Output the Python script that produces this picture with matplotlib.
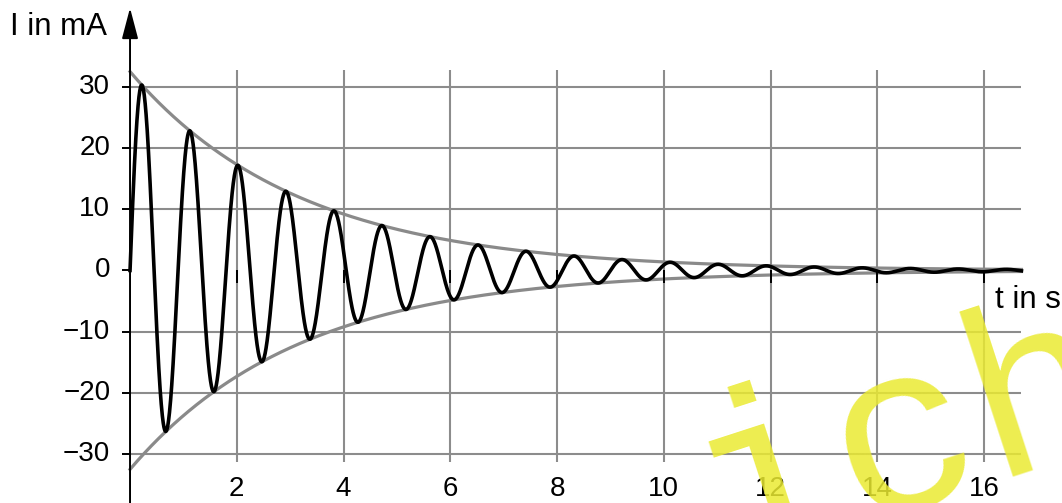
import numpy as np
import matplotlib.pyplot as plt

plt.rcParams['font.family'] = ['Liberation Sans', 'DejaVu Sans']

# Werte
I0 = 32.5        # Anfangsamplitude der Einhuellenden (mA)
delta = 0.315    # Abklingkonstante (1/s)
T = 0.9          # Periodendauer (s)
t_end = 16.7     # Ende der Kurve (s)

x_ticks = [2, 4, 6, 8, 10, 12, 14, 16]
y_ticks = [-30, -20, -10, 0, 10, 20, 30]
x_tick_labels = ['2', '4', '6', '8', '10', '12', '14', '16']
y_tick_labels = ['\u221230', '\u221220', '\u221210', '0', '10', '20', '30']

t = np.linspace(0, t_end, 4000)
env = I0 * np.exp(-delta * t)
I = env * np.sin(2 * np.pi * t / T)

fig = plt.figure(figsize=(10.62, 5.03), dpi=100)
ax = fig.add_axes([0, 0, 1, 1])
ax.set_xlim(-2.436, 17.46)
ax.set_ylim(-38.0, 44.2)
ax.axis('off')

grid_col = '#8c8c8c'
# Gitter
ax.vlines(x_ticks, -31.3, 32.8, color=grid_col, lw=1.5, zorder=1)
ax.hlines([y for y in y_ticks if y != 0], 0, t_end, color=grid_col, lw=1.5, zorder=1)

# Achsen mit Pfeilen
ax.annotate('', xy=(17.55, 0), xytext=(-0.15, 0),
            arrowprops=dict(arrowstyle='-|>,head_length=1.9,head_width=0.5',
                            mutation_scale=10, color='black', lw=1.4,
                            shrinkA=0, shrinkB=0), zorder=5)
ax.annotate('', xy=(0, 42.9), xytext=(0, -38.5),
            arrowprops=dict(arrowstyle='-|>,head_length=1.9,head_width=0.5',
                            mutation_scale=10, color='black', lw=1.4,
                            shrinkA=0, shrinkB=0), zorder=5)
ax.vlines(x_ticks, -2.1, 0, color='black', lw=1.4, zorder=5)
ax.hlines(y_ticks, -0.15, 0, color='black', lw=1.4, zorder=5)

# Kurven
ax.plot(t, env, color='#8a8a8a', lw=2.3, zorder=3)
ax.plot(t, -env, color='#8a8a8a', lw=2.3, zorder=3)
ax.plot(t, I, color='black', lw=2.6, zorder=4)

# Beschriftung
for x, lab in zip(x_ticks, x_tick_labels):
    ax.text(x, -35.7, lab, ha='center', va='center', fontsize=20)
for y, lab in zip(y_ticks, y_tick_labels):
    ax.text(-0.37, y, lab, ha='right', va='center', fontsize=20)
ax.text(-0.43, 39.8, 'I in mA', ha='right', va='center', fontsize=22.5)
ax.text(16.2, -4.9, 't in s', ha='left', va='center', fontsize=22.5)

# Wasserzeichen
fig.text(905 / 1062, 1 - 442 / 503, 'ich', family='Liberation Mono', fontsize=172,
         color='#eaea31', alpha=0.85, rotation=18, rotation_mode='anchor',
         ha='center', va='center', zorder=10)

fig.savefig('out.png', dpi=100)
